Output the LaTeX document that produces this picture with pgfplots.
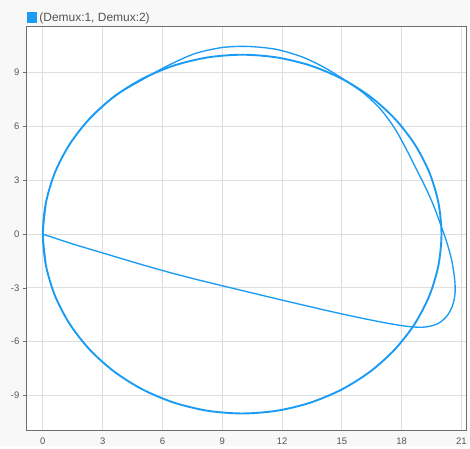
\documentclass[border=0pt]{standalone}
\usepackage{fontspec}
\setmainfont{Liberation Sans}
\usepackage{pgfplots}
\pgfplotsset{compat=1.18}
\usetikzlibrary{backgrounds}
\definecolor{sig}{RGB}{26,156,245}
\definecolor{bgc}{RGB}{248,248,248}
\definecolor{gridc}{RGB}{222,222,222}
\definecolor{axc}{RGB}{110,110,110}
\definecolor{txt}{RGB}{85,85,85}
\begin{document}
\begin{tikzpicture}
\begin{axis}[
 name=ax,
 scale only axis, width=441pt, height=405pt,
 xmin=-0.8, xmax=21.25, ymin=-10.95, ymax=11.55,
 xtick={0,3,...,21}, ytick={-9,-6,...,9},
 grid=major, major grid style={gridc, line width=1pt},
 axis line style={axc, line width=1.1pt},
 tick align=outside, major tick length=4pt, tick pos=left,
 ytick style={axc, line width=0.8pt},
 xtick style={draw=none},
 ticklabel style={font=\fontsize{9.5}{11}\selectfont, text=txt},
 /pgf/number format/assume math mode=true,
 axis background/.style={fill=white},
 legend style={at={(0,1)}, anchor=south west, draw=none, fill=none, font=\fontsize{12}{14}\selectfont, text=txt, inner xsep=0pt, inner ysep=2pt},
 legend image code/.code={\fill[#1] (0pt,-4.5pt) rectangle (9pt,4.5pt);},
 legend cell align=left,
]
\addplot[sig, line width=1.35pt, smooth] coordinates {
(0,0) (1.5,-0.55) (3,-1.05) (4.5,-1.55) (6,-2.03) (7.5,-2.47) (9,-2.88) (10.5,-3.28) (12,-3.68) (13.5,-4.07) (15,-4.45) (16.5,-4.8) (17.6,-5.03) (18.5,-5.17) (19.2,-5.18) (19.8,-5.0) (20.25,-4.6) (20.55,-4.0) (20.68,-3.3) (20.66,-2.5) (20.5,-1.4) (20.25,-0.4) (19.95,0.55) (19.6,1.6) (19.2,2.6) (18.75,3.6) (18.25,4.7) (17.65,5.9) (16.95,6.95) (16.1,7.85) (15.1,8.62) (14.1,9.3) (13,9.88) (11.7,10.3) (10.3,10.46) (9,10.4) (7.6,10.05) (6.2,9.35) (4.9,8.55) (3.6,7.7) (2.34,6.43)
};
\addlegendentry{(Demux:1, Demux:2)}
\addplot[sig, line width=1.9pt, smooth, forget plot] coordinates {
(0.152,-1.736) (0,0) (0.152,1.736) (0.603,3.420) (1.340,5.000) (2.340,6.428) (3.572,7.660) (5.000,8.660) (6.580,9.397) (8.264,9.848) (10,10) (11.736,9.848) (13.420,9.397) (15.000,8.660) (16.428,7.660) (17.660,6.428) (18.660,5.000) (19.397,3.420) (19.848,1.736) (20,0) (19.848,-1.736) (19.397,-3.420) (18.660,-5.000) (17.660,-6.428) (16.428,-7.660) (15.000,-8.660) (13.420,-9.397) (11.736,-9.848) (10,-10) (8.264,-9.848) (6.580,-9.397) (5.000,-8.660) (3.572,-7.660) (2.340,-6.428) (1.340,-5.000) (0.603,-3.420) (0.152,-1.736) (0,0) (0.152,1.736)
};
\end{axis}
\path (ax.south west) ++(-27pt,-16pt) coordinate (bl);
\path (ax.north east) ++(2pt,27pt) coordinate (tr);
\begin{pgfonlayer}{background}
\fill[bgc] (bl) rectangle (tr);
\end{pgfonlayer}
\end{tikzpicture}
\end{document}
